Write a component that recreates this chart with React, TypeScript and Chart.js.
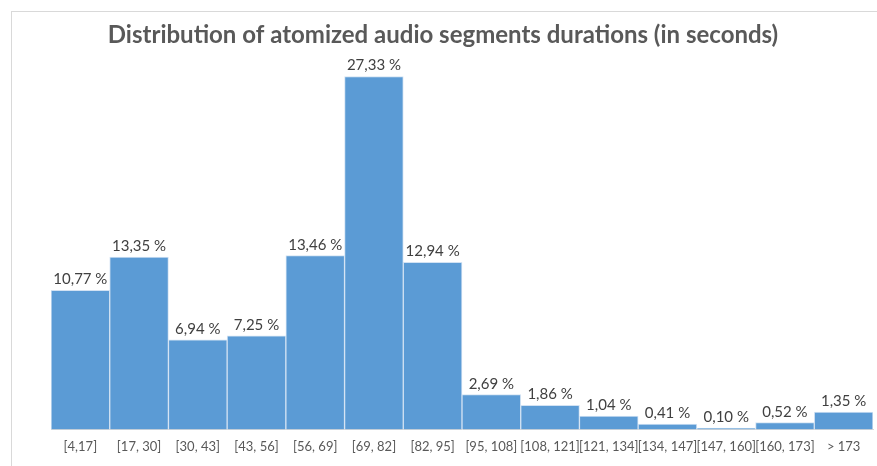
import React, { useEffect, useRef } from "react";
import { Chart, registerables } from "chart.js";

Chart.register(...registerables);

const categories = [
  "[4,17]", "[17, 30]", "[30, 43]", "[43, 56]", "[56, 69]", "[69, 82]", "[82, 95]",
  "[95, 108]", "[108, 121]", "[121, 134]", "[134, 147]", "[147, 160]", "[160, 173]", "> 173",
];
const percentages = [10.77, 13.35, 6.94, 7.25, 13.46, 27.33, 12.94, 2.69, 1.86, 1.04, 0.41, 0.1, 0.52, 1.35];
const titleText = "Distribution of atomized audio segments durations (in seconds)";

const FONT = "Lato, 'Open Sans', sans-serif";

const labelPlugin = {
  id: "valueLabels",
  afterDatasetsDraw(chart: any) {
    const ctx = chart.ctx;
    const meta = chart.getDatasetMeta(0);
    ctx.save();
    ctx.fillStyle = "#404040";
    ctx.font = `15px ${FONT}`;
    ctx.textAlign = "center";
    ctx.textBaseline = "alphabetic";
    meta.data.forEach((el: any, i: number) => {
      const v = chart.data.datasets[0].data[i] as number;
      const txt = v.toFixed(2).replace(".", ",") + " %";
      ctx.fillText(txt, el.x, el.y - 6);
    });
    ctx.restore();
  },
};

const titlePlugin = {
  id: "customTitle",
  afterDraw(chart: any) {
    const ctx = chart.ctx;
    ctx.save();
    ctx.fillStyle = "#595959";
    ctx.font = `bold 24px ${FONT}`;
    ctx.textAlign = "center";
    ctx.textBaseline = "alphabetic";
    ctx.fillText(titleText, 443, 43);
    ctx.restore();
  },
};

export default function App() {
  const ref = useRef<HTMLCanvasElement>(null);
  useEffect(() => {
    if (!ref.current) return;
    const chart = new Chart(ref.current, {
      type: "bar",
      data: {
        labels: categories,
        datasets: [
          {
            data: percentages,
            backgroundColor: "#5b9bd5",
            borderColor: "#d2e2f3",
            borderWidth: 1,
            barPercentage: 1,
            categoryPercentage: 1,
          },
        ],
      },
      options: {
        animation: false,
        responsive: false,
        layout: { padding: { left: 51, right: 4, top: 42, bottom: 1 } },
        plugins: { legend: { display: false }, title: { display: false }, tooltip: { enabled: false } },
        scales: {
          y: { display: false, min: 0, max: 30 },
          x: {
            grid: { display: false, drawTicks: false },
            border: { display: true, color: "#d9d9d9" },
            ticks: {
              color: "#595959",
              font: { family: FONT, size: 13 },
              padding: 10,
              maxRotation: 0,
              autoSkip: false,
            },
          },
        },
      },
      plugins: [labelPlugin, titlePlugin],
    });
    return () => chart.destroy();
  }, []);
  return (
    <div style={{ position: "fixed", left: 0, top: 0, width: 877, height: 466, background: "#fff", overflow: "hidden" }}>
      <div
        style={{
          position: "absolute",
          left: 11,
          top: 11,
          width: 1000,
          height: 1000,
          border: "1px solid #d9d9d9",
          boxSizing: "border-box",
        }}
      />
      <canvas ref={ref} width={877} height={466} style={{ position: "absolute", left: 0, top: 0 }} />
    </div>
  );
}
